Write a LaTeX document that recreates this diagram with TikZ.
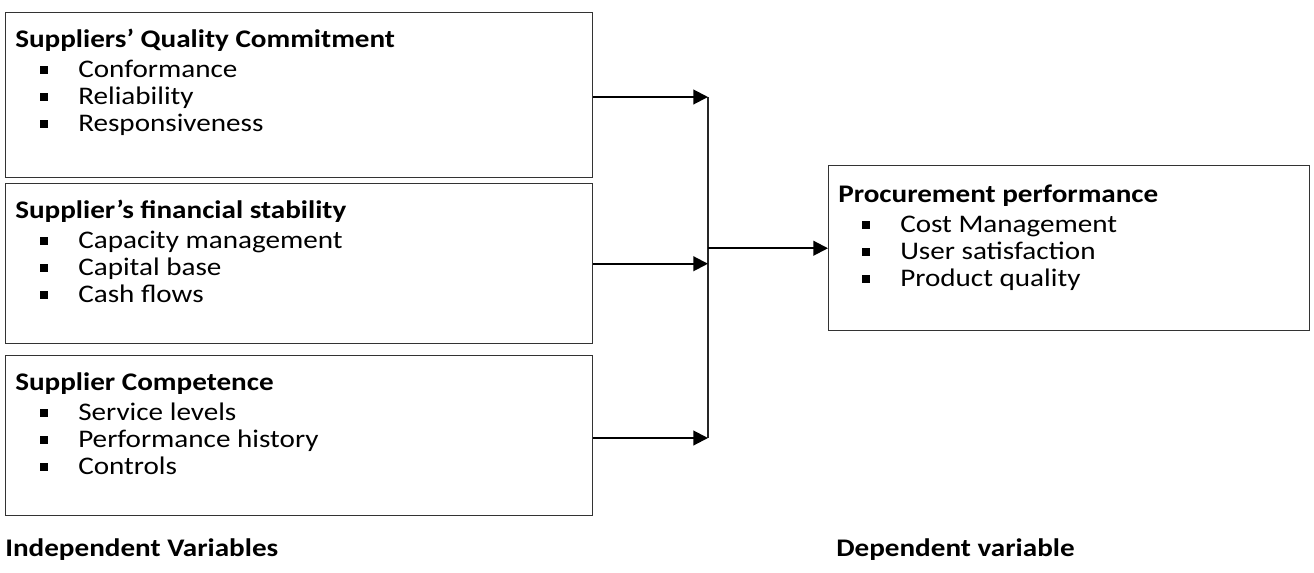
\documentclass[tikz,border=0pt]{standalone}
\usepackage{fontspec}
\setmainfont{Carlito}[FakeStretch=1.15]
\usetikzlibrary{arrows.meta}
\newdimen\pxu \pxu=0.75pt
\newcommand{\bsq}{\makebox[38\pxu][l]{\rule[3\pxu]{8\pxu}{8\pxu}}}
\tikzset{
  box/.style={draw=black!80, line width=1.1pt, inner sep=0pt, anchor=north west},
  ttl/.style={anchor=base west, inner sep=0pt, font=\fontsize{19}{22}\selectfont\bfseries},
  itm/.style={anchor=base west, inner sep=0pt, font=\fontsize{19}{22}\selectfont},
  arr/.style={line width=1.5pt, -{Triangle[length=11pt,width=11pt]}},
  vline/.style={line width=0.8pt, black!85}
}
\begin{document}
\begin{tikzpicture}[x=0.75pt,y=-0.75pt]
\useasboundingbox (0,0) rectangle (1314,572);
% boxes
\node[box, minimum width=587\pxu, minimum height=165\pxu] (b1) at (5,12) {};
\node[box, minimum width=587\pxu, minimum height=160\pxu] (b2) at (5,183) {};
\node[box, minimum width=587\pxu, minimum height=160\pxu] (b3) at (5,355) {};
\node[box, minimum width=481\pxu, minimum height=165\pxu] (p) at (828,165) {};
% box 1
\node[ttl] (t1) at (15,47) {Suppliers’ Quality Commitment};
\node[itm] (t1a) at (40,77) {\bsq Conformance};
\node[itm] (t1b) at (40,104) {\bsq Reliability};
\node[itm] (t1c) at (40,131) {\bsq Responsiveness};
% box 2
\node[ttl] (t2) at (15,218) {Supplier’s financial stability};
\node[itm] (t2a) at (40,248) {\bsq Capacity management};
\node[itm] (t2b) at (40,275) {\bsq Capital base};
\node[itm] (t2c) at (40,302) {\bsq Cash flows};
% box 3
\node[ttl] (t3) at (15,390) {Supplier Competence};
\node[itm] (t3a) at (40,420) {\bsq Service levels};
\node[itm] (t3b) at (40,447) {\bsq Performance history};
\node[itm] (t3c) at (40,474) {\bsq Controls};
% procurement
\node[ttl] (tp) at (838,202) {Procurement performance};
\node[itm] (tpa) at (862,232) {\bsq Cost Management};
\node[itm] (tpb) at (862,259) {\bsq User satisfaction};
\node[itm] (tpc) at (862,286) {\bsq Product quality};
% labels
\node[ttl] (iv) at (5,556) {Independent Variables};
\node[ttl] (dv) at (836,556) {Dependent variable};
% connectors
\coordinate (jt) at (708,97);
\coordinate (jb) at (708,438);
\draw[vline] (jt) -- (jb);
\draw[arr] (b1.east |- jt) -- (jt);
\draw[arr] (b2.east) -- (b2.east -| jt);
\draw[arr] (b3.east |- jb) -- (jb);
\draw[arr] (p.west -| jt) -- (p.west);
\end{tikzpicture}
\end{document}
